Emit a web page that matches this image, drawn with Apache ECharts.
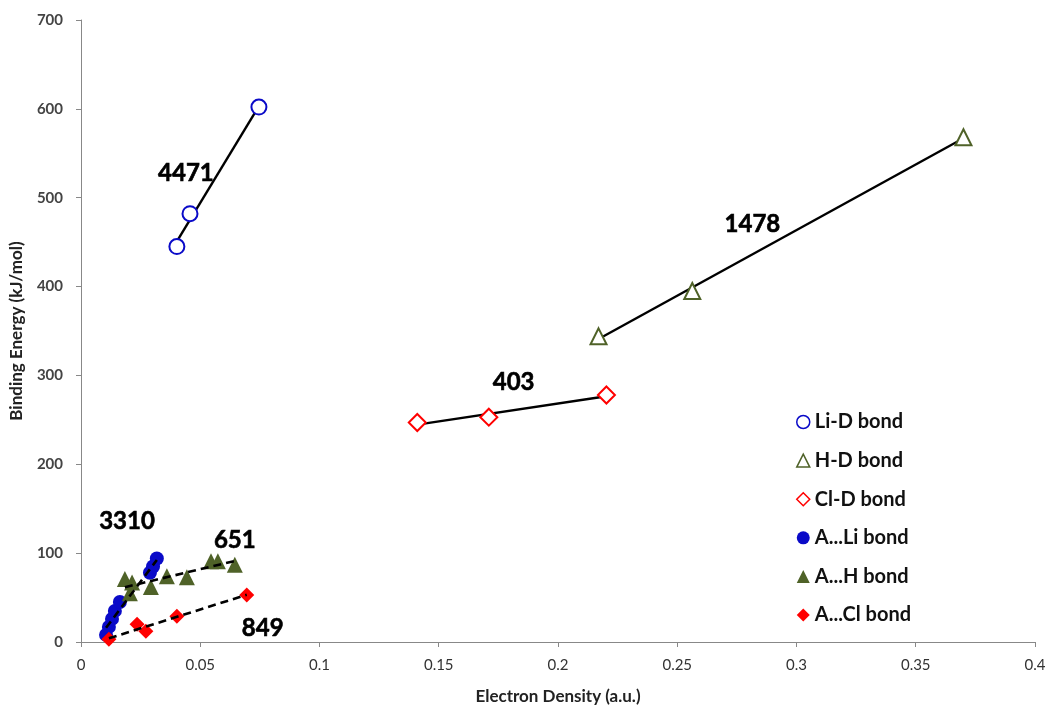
<!DOCTYPE html>
<html><head><meta charset="utf-8">
<script src="https://cdn.jsdelivr.net/npm/echarts@6/dist/echarts.min.js"></script>
<style>html,body{margin:0;padding:0;background:#fff}#c{width:1049px;height:710px}</style>
</head><body><div id="c"></div>
<script>
// Data: [electron density, binding energy]
const liD = [[0.0402, 445], [0.0457, 482], [0.0746, 602]];
const hD = [[0.217, 344], [0.2563, 395], [0.370, 568]];
const clD = [[0.141, 247], [0.171, 253], [0.2203, 278]];
const aLi = [[0.0105, 8], [0.0117, 17], [0.013, 26], [0.0142, 35], [0.0163, 45], [0.0289, 78], [0.0302, 85], [0.0318, 94]];
const aH = [[0.0184, 71], [0.0214, 67], [0.0205, 55], [0.0293, 62], [0.036, 74], [0.0444, 73], [0.0545, 91], [0.0574, 91], [0.0645, 87]];
const aCl = [[0.0117, 3], [0.0235, 20], [0.0272, 12], [0.0402, 29], [0.0695, 53]];
// Slope annotations placed at data coordinates
const notes = [[0.044, 528, '4471'], [0.2815, 470, '1478'], [0.1814, 292, '403'], [0.0193, 136, '3310'], [0.0645, 115, '651'], [0.0762, 16, '849']];
const xTicks = {min: 0, max: 0.4, interval: 0.05};
const yTicks = {min: 0, max: 700, interval: 100};

function fit(pts) {
  const n = pts.length;
  let sx = 0, sy = 0, sxx = 0, sxy = 0, mn = Infinity, mx = -Infinity;
  pts.forEach(p => { sx += p[0]; sy += p[1]; sxx += p[0]*p[0]; sxy += p[0]*p[1]; mn = Math.min(mn, p[0]); mx = Math.max(mx, p[0]); });
  const b = (n*sxy - sx*sy) / (n*sxx - sx*sx);
  const a = (sy - b*sx) / n;
  return [[mn, a + b*mn], [mx, a + b*mx]];
}

const F = 'Lato, "Open Sans", sans-serif';
const blue = '#0a0ac8', green = '#4f6228', red = '#ff0000';

function trend(pts, dashed) {
  return {type: 'line', data: fit(pts), showSymbol: false, silent: true, z: dashed ? 5 : 1,
    lineStyle: {color: '#000', width: dashed ? 2.6 : 2.4, opacity: 1, type: dashed ? [8, 5] : 'solid'}};
}
function hollow(name, pts, symbol, color, size) {
  return {name, type: 'scatter', data: pts, symbol, symbolSize: size, z: 3,
    itemStyle: {color: '#fff', borderColor: color, borderWidth: 2, opacity: 1}};
}
function filled(name, pts, symbol, color, size) {
  return {name, type: 'scatter', data: pts, symbol, symbolSize: size, z: 3,
    itemStyle: {color, opacity: 1}};
}

const chart = echarts.init(document.getElementById('c'));
chart.setOption({
  animation: false,
  grid: {left: 80, right: 14, top: 20, bottom: 67},
  xAxis: {type: 'value', min: xTicks.min, max: xTicks.max, interval: xTicks.interval,
    name: 'Electron Density (a.u.)', nameLocation: 'middle', nameGap: 46,
    nameTextStyle: {fontFamily: F, fontWeight: 'bold', fontSize: 17, color: '#222'},
    axisLine: {lineStyle: {color: '#888'}}, axisTick: {show: true, length: 5, lineStyle: {color: '#888'}},
    splitLine: {show: false},
    axisLabel: {fontFamily: F, fontSize: 15, color: '#333', margin: 16}},
  yAxis: {type: 'value', min: yTicks.min, max: yTicks.max, interval: yTicks.interval,
    name: 'Binding Energy (kJ/mol)', nameLocation: 'middle', nameGap: 56,
    nameTextStyle: {fontFamily: F, fontWeight: 'bold', fontSize: 17, color: '#222'},
    axisLine: {show: true, lineStyle: {color: '#888'}}, axisTick: {show: true, length: 5, lineStyle: {color: '#888'}},
    splitLine: {show: false},
    axisLabel: {fontFamily: F, fontSize: 15, fontWeight: 'bold', color: '#444', margin: 18}},
  legend: {orient: 'vertical', left: 791, top: 407, itemGap: 18.6, itemWidth: 13, itemHeight: 13,
    textStyle: {fontFamily: F, fontWeight: 'bold', fontSize: 20, color: '#111'},
    data: [
      {name: 'Li-D bond', icon: 'circle', itemStyle: {color: '#fff', borderColor: blue, borderWidth: 1.5}},
      {name: 'H-D bond', icon: 'triangle', itemStyle: {color: '#fff', borderColor: green, borderWidth: 1.5}},
      {name: 'Cl-D bond', icon: 'diamond', itemStyle: {color: '#fff', borderColor: red, borderWidth: 1.5}},
      {name: 'A...Li bond', icon: 'circle', itemStyle: {color: blue}},
      {name: 'A...H bond', icon: 'triangle', itemStyle: {color: green}},
      {name: 'A...Cl bond', icon: 'diamond', itemStyle: {color: red}}
    ]},
  series: [
    trend(liD, false), trend(hD, false), trend(clD, false),
    trend(aLi, true), trend(aH, true), trend(aCl, true),
    hollow('Li-D bond', liD, 'circle', blue, 15),
    hollow('H-D bond', hD, 'triangle', green, 16),
    hollow('Cl-D bond', clD, 'diamond', red, 17),
    filled('A...Li bond', aLi, 'circle', blue, 14),
    filled('A...H bond', aH, 'triangle', green, 16),
    filled('A...Cl bond', aCl, 'diamond', red, 15),
    {type: 'scatter', data: notes, symbolSize: 0, silent: true, z: 6,
      itemStyle: {opacity: 1},
      label: {show: true, position: 'inside', formatter: p => p.value[2],
        fontFamily: F, fontWeight: 'bold', fontSize: 24, color: '#000',
        textBorderColor: '#000', textBorderWidth: 0.6}}
  ]
});
</script></body></html>
